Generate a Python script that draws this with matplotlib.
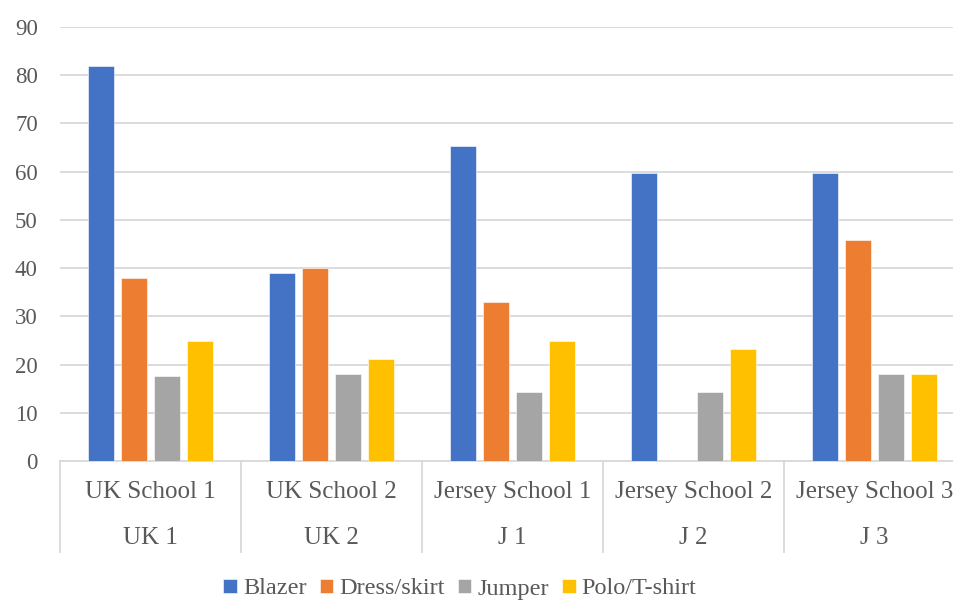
import matplotlib
matplotlib.use("Agg")
import matplotlib.pyplot as plt
import numpy as np
from matplotlib.lines import Line2D
from matplotlib.transforms import blended_transform_factory

schools = ["UK School 1", "UK School 2", "Jersey School 1", "Jersey School 2", "Jersey School 3"]
codes = ["UK 1", "UK 2", "J 1", "J 2", "J 3"]
items = ["Blazer", "Dress/skirt", "Jumper", "Polo/T-shirt"]
blazer = [82, 39, 65.3, 59.7, 59.7]
dress = [38, 40, 33, 0, 45.8]
jumper = [17.7, 18, 14.4, 14.4, 18]
polo = [24.8, 21.2, 24.9, 23.2, 18]
colors = ["#4472C4", "#ED7D31", "#A5A5A5", "#FFC000"]

txt = "#595959"
grid = "#D9D9D9"
plt.rcParams["font.family"] = ["Liberation Serif", "DejaVu Serif"]

W, H = 954, 600
fig = plt.figure(figsize=(W / 100, H / 100), dpi=100)
# plot area in pixels: left 60, bottom 461, top 27, right runs past the edge
ax = fig.add_axes([60 / W, (H - 461) / H, 905 / W, (461 - 27) / H])

x = np.arange(len(schools))
pitch, width = 0.1807, 0.1436
for i, (vals, c) in enumerate(zip([blazer, dress, jumper, polo], colors)):
    ax.bar(x + (i - 1.5) * pitch, vals, width, color=c, label=items[i],
           edgecolor="white", linewidth=0.4, zorder=3)

ax.set_xlim(-0.5, len(schools) - 0.5)
ax.set_ylim(0, 90)
ax.set_yticks(range(0, 91, 10))
ax.yaxis.grid(True, color=grid, linewidth=1.3, zorder=0)
ax.tick_params(axis="y", length=0, pad=16, labelsize=16.5, labelcolor=txt)
ax.set_xticks([])
for s in ["top", "right", "left"]:
    ax.spines[s].set_visible(False)
ax.spines["bottom"].set_color(grid)
ax.spines["bottom"].set_linewidth(1.3)

# two-level category labels with separators
tr = blended_transform_factory(ax.transData, ax.transAxes)
for i in range(len(schools)):
    ax.text(i, -0.072, schools[i], transform=tr, ha="center", va="center",
            fontsize=18, color=txt)
    ax.text(i, -0.178, codes[i], transform=tr, ha="center", va="center",
            fontsize=18, color=txt)
for b in np.arange(-0.5, len(schools) + 0.5, 1):
    ax.add_line(Line2D([b, b], [0, -0.21], transform=tr, color=grid,
                       linewidth=1.3, clip_on=False))

fig.legend(loc="center", bbox_to_anchor=(460 / W, (H - 589) / H), ncol=4,
           frameon=False, fontsize=17.5, labelcolor=txt, handlelength=0.55,
           handleheight=0.55, handletextpad=0.25, columnspacing=0.55)

fig.savefig("out.png", dpi=100)
